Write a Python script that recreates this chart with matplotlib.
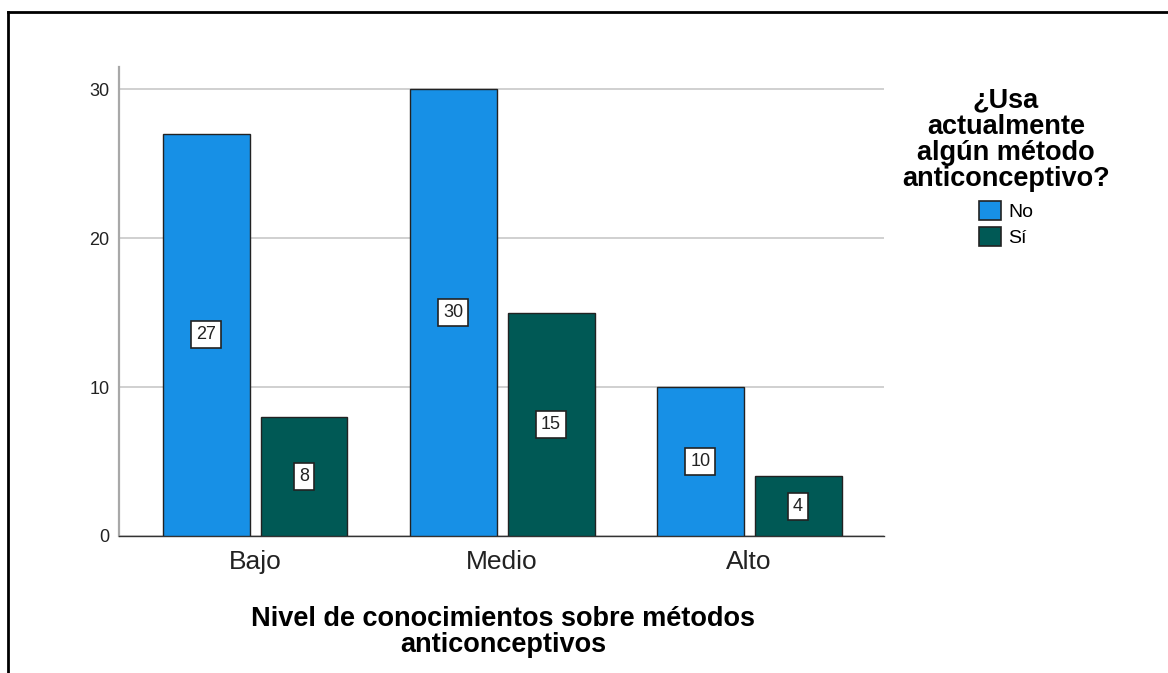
import matplotlib
matplotlib.use('Agg')
import matplotlib.pyplot as plt
import numpy as np

plt.rcParams['font.family'] = ['Liberation Sans', 'DejaVu Sans']

niveles = ['Bajo', 'Medio', 'Alto']
no_vals = [27, 30, 10]
si_vals = [8, 15, 4]
series = ['No', 'Sí']
colores = ['#1790E6', '#005955']

fig = plt.figure(figsize=(11.68, 6.73), dpi=100)
W, H = 1168, 673
ax = fig.add_axes([119 / W, 1 - 536 / H, (884 - 119) / W, (536 - 67) / H])

x = np.arange(len(niveles))
w = 0.352
off = 0.198
for i, (vals, col, lab) in enumerate(zip([no_vals, si_vals], colores, series)):
    pos = x + (off if i else -off)
    bars = ax.bar(pos, vals, width=w, color=col, edgecolor='#222222', linewidth=1.0,
                  label=lab, zorder=3)
    for b, v in zip(bars, vals):
        ax.text(b.get_x() + b.get_width() / 2, v / 2, str(v), ha='center', va='center',
                fontsize=13, color='#222222', zorder=4,
                bbox=dict(boxstyle='square,pad=0.28', fc='white', ec='#222222', lw=1.2))

ax.set_xlim(-0.551, 2.546)
ax.set_ylim(0, 31.48)
ax.set_yticks([0, 10, 20, 30])
ax.set_xticks(x)
ax.set_xticklabels(niveles, fontsize=19, color='#222222')
ax.tick_params(axis='y', labelsize=13, colors='#222222', length=0, pad=7)
ax.tick_params(axis='x', length=0, pad=10)
ax.yaxis.grid(True, color='#c8c8c8', linewidth=1.2, zorder=0)
for s in ['top', 'right']:
    ax.spines[s].set_visible(False)
ax.spines['left'].set_color('#a8a8a8')
ax.spines['left'].set_linewidth(1.6)
ax.spines['bottom'].set_color('#333333')
ax.spines['bottom'].set_linewidth(1.0)

fig.text(503 / W, 1 - 632 / H, 'Nivel de conocimientos sobre métodos\nanticonceptivos',
         ha='center', va='center', fontsize=19.5, fontweight='bold', linespacing=1.02,
         multialignment='center')

leg = fig.legend(loc='upper center', bbox_to_anchor=(1006 / W, 1 - 78 / H),
                 title='¿Usa\nactualmente\nalgún método\nanticonceptivo?',
                 frameon=False, fontsize=14, handlelength=1.13, handleheight=1.08,
                 handletextpad=0.36, labelspacing=0.3, borderpad=0)
leg.get_title().set_fontweight('bold')
leg.get_title().set_fontsize(19.5)
leg.get_title().set_linespacing(1.0)
leg.get_title().set_multialignment('center')
leg._legend_box.align = 'center'
leg._legend_box.sep = 7
for p in leg.get_patches():
    p.set_linewidth(1.2)

# marco recortado (arriba e izquierda)
fig.add_artist(plt.Line2D([8 / W, 1], [1 - 12 / H, 1 - 12 / H], color='black', lw=2,
                          transform=fig.transFigure))
fig.add_artist(plt.Line2D([8 / W, 8 / W], [0, 1 - 12 / H], color='black', lw=2,
                          transform=fig.transFigure))

fig.savefig('out.png', dpi=100)
